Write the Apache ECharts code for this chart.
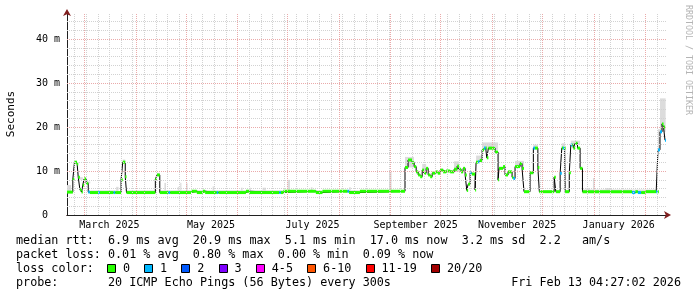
<!DOCTYPE html>
<html><head><meta charset="utf-8">
<script src="https://cdn.jsdelivr.net/npm/echarts@6/dist/echarts.min.js"></script>
<style>html,body{margin:0;padding:0;background:#fff}#c{width:697px;height:297px}</style>
</head><body><div id="c"></div>
<script>
// ---------------- data ----------------
const axisStart = '2025-02-18 12:00';
const axisEnd   = '2026-02-14 00:00';
const dataEnd   = '2026-02-13 04:27';

// median rtt steps (ms): start time of each step, value, loss count class
const stepDates = [
 '2025-02-18 12:00','2025-02-22 00:00','2025-02-23 00:00','2025-02-24 12:00','2025-02-25 06:00',
 '2025-02-26 06:00','2025-02-27 06:00','2025-02-28 00:00','2025-02-28 18:00','2025-03-02 00:00',
 '2025-03-03 06:00','2025-03-04 06:00','2025-03-09 06:00','2025-03-10 06:00','2025-03-18 12:00',
 '2025-03-19 12:00','2025-03-23 00:00','2025-03-24 00:00','2025-03-25 12:00','2025-03-26 06:00',
 '2025-04-12 14:00','2025-04-13 14:00','2025-04-15 06:00','2025-04-20 12:00','2025-04-21 12:00',
 '2025-05-04 00:00','2025-05-07 12:00','2025-05-11 00:00','2025-05-12 12:00','2025-05-19 12:00',
 '2025-05-20 12:00','2025-06-06 00:00','2025-06-08 00:00','2025-06-26 00:00','2025-06-27 00:00',
 '2025-06-28 12:00','2025-07-18 00:00','2025-07-22 00:00','2025-08-06 00:00','2025-08-07 00:00',
 '2025-08-13 12:00','2025-09-09 14:00','2025-09-11 10:00','2025-09-13 19:00','2025-09-15 02:00',
 '2025-09-16 07:00','2025-09-17 12:00','2025-09-18 17:00','2025-09-19 22:00','2025-09-21 02:00',
 '2025-09-22 07:00','2025-09-23 12:00','2025-09-24 17:00','2025-09-25 22:00','2025-09-27 17:00',
 '2025-09-29 07:00','2025-09-30 17:00','2025-10-02 12:00','2025-10-04 07:00','2025-10-06 17:00',
 '2025-10-09 02:00','2025-10-10 22:00','2025-10-12 02:00','2025-10-13 07:00','2025-10-14 12:00',
 '2025-10-15 17:00','2025-10-16 17:00','2025-10-17 12:00','2025-10-18 17:00','2025-10-19 17:00',
 '2025-10-21 17:00','2025-10-22 07:00','2025-10-23 12:00','2025-10-24 12:00','2025-10-25 22:00',
 '2025-10-27 02:00','2025-10-28 02:00','2025-10-28 17:00','2025-10-29 17:00','2025-11-02 17:00',
 '2025-11-04 12:00','2025-11-05 02:00','2025-11-07 12:00','2025-11-08 17:00','2025-11-10 12:00',
 '2025-11-12 22:00','2025-11-13 17:00','2025-11-14 17:00','2025-11-17 17:00','2025-11-18 22:00',
 '2025-11-20 02:00','2025-11-23 17:00','2025-11-25 17:00','2025-11-26 17:00','2025-11-28 10:00',
 '2025-11-29 07:00','2025-12-08 05:00','2025-12-09 05:00','2025-12-11 19:00','2025-12-12 19:00',
 '2025-12-13 12:00','2025-12-14 12:00','2025-12-14 19:00','2025-12-17 07:00','2025-12-18 05:00',
 '2025-12-19 05:00','2025-12-19 17:00','2025-12-20 19:00','2025-12-22 05:00','2025-12-23 19:00',
 '2025-12-25 05:00','2026-01-24 00:00','2026-01-26 00:00','2026-01-27 12:00','2026-01-29 12:00',
 '2026-02-01 00:00','2026-02-07 12:00','2026-02-08 12:00','2026-02-08 14:00','2026-02-09 19:00',
 '2026-02-11 00:00','2026-02-11 22:00','2026-02-12 19:00'
];
const stepMedian = [
 5.2, 8.1, 12.0, 11.6, 8.6,
 5.8, 5.2, 6.8, 8.2, 7.2,
 5.2, 5.1, 5.1, 5.1, 5.1,
 5.1, 8.0, 12.0, 8.7, 5.1,
 8.1, 9.1, 5.1, 5.1, 5.1,
 5.4, 5.1, 5.4, 5.1, 5.1,
 5.1, 5.4, 5.1, 5.1, 5.1,
 5.4, 5.1, 5.4, 5.4, 5.1,
 5.4, 10.8, 12.5, 11.9, 11.0,
 9.8, 9.1, 8.7, 10.2, 9.5,
 10.6, 9.1, 8.7, 9.5, 9.8,
 9.5, 10.2, 9.8, 10.0, 9.8,
 10.4, 11.1, 10.4, 9.8, 10.6,
 9.1, 5.6, 7.0, 9.6, 9.3,
 5.7, 12.0, 12.1, 12.4, 14.8,
 15.2, 15.2, 13.0, 15.2, 14.3,
 8.0, 10.6, 11.0, 9.1, 9.8,
 8.6, 8.3, 11.0, 11.7, 10.6,
 5.3, 9.6, 15.2, 15.2, 10.8,
 5.3, 8.6, 5.3, 9.5, 15.2,
 15.2, 15.2, 5.3, 9.6, 15.9,
 15.9, 15.2, 16.3, 15.2, 10.6,
 5.3, 5.1, 5.3, 5.1, 5.1,
 5.3, 5.3, 5.3, 14.8, 18.9,
 20.7, 20.0, 17.0
];
const stepLoss = [
 0,0,0,0,0, 0,0,0,0,0, 1,0,1,0,1, 0,0,0,0,0, 0,0,0,1,0,
 0,0,0,0,1, 0,0,0,1,0, 0,0,0,1,0, 0,0,0,0,0, 0,0,0,0,0,
 0,0,0,0,0, 0,0,0,0,0, 0,0,0,0,0, 0,0,0,1,0, 0,0,1,0,0,
 1,0,0,0,0, 0,0,0,0,0, 0,1,0,0,0, 0,0,1,0,0, 0,0,0,1,0,
 1,0,0,0,1, 0,0,0,0,0, 0,1,0,1,0, 0,1,0,1,1, 0,0,1
];

// smoke (spread of the 20 pings): start, end, upper value (ms)
const smokeStart = [
 '2025-02-18 12:00','2025-02-26 00:00','2025-03-02 00:00','2025-03-04 12:00','2025-03-20 00:00',
 '2025-03-24 00:00','2025-03-26 06:00','2025-04-13 14:00','2025-04-15 06:00','2025-04-18 00:00',
 '2025-04-26 00:00','2025-04-27 12:00','2025-05-01 00:00','2025-05-17 00:00','2025-06-03 00:00',
 '2025-06-08 00:00','2025-06-16 00:00','2025-07-01 00:00','2025-07-15 00:00','2025-08-07 00:00',
 '2025-08-31 00:00','2025-09-09 14:00','2025-09-19 22:00','2025-10-09 00:00','2025-10-22 07:00',
 '2025-10-25 22:00','2025-11-14 17:00','2025-11-25 17:00','2025-12-12 19:00','2025-12-18 05:00',
 '2025-12-25 05:00','2025-12-27 12:00','2025-12-31 12:00','2026-01-08 00:00','2026-02-08 14:00',
 '2026-02-09 19:00'
];
const smokeEnd = [
 '2025-02-21 00:00','2025-02-28 00:00','2025-03-04 12:00','2025-03-21 00:00','2025-03-21 12:00',
 '2025-03-25 12:00','2025-04-12 14:00','2025-04-15 06:00','2025-09-09 14:00','2025-04-19 00:00',
 '2025-04-27 00:00','2025-04-28 06:00','2025-05-02 00:00','2025-05-18 00:00','2025-06-04 00:00',
 '2025-06-09 00:00','2025-06-18 00:00','2025-07-02 12:00','2025-07-16 00:00','2025-08-08 00:00',
 '2025-09-01 12:00','2025-09-15 00:00','2025-09-22 07:00','2025-10-12 00:00','2025-10-25 22:00',
 '2025-11-04 12:00','2025-11-20 00:00','2025-11-28 10:00','2025-12-14 19:00','2025-12-23 19:00',
 '2026-02-08 14:00','2025-12-29 12:00','2026-01-01 12:00','2026-01-12 00:00','2026-02-09 19:00',
 '2026-02-13 04:27'
];
const smokeHigh = [
 6.8, 8.0, 7.6, 5.6, 6.4,
 12.6, 5.6, 9.6, 5.6, 7.3,
 6.4, 7.3, 7.2, 6.5, 6.2,
 6.2, 6.2, 8.0, 6.3, 6.3,
 9.8, 13.2, 11.6, 12.2, 13.5,
 16.5, 12.3, 16.0, 16.3, 16.9,
 5.8, 6.1, 8.4, 6.1, 19.5,
 26.5
];

// axes / ticks
const yTickValues = [0, 10, 20, 30, 40];
const yTickLabels = ['0  ', '10 m', '20 m', '30 m', '40 m'];
const xLabelDates = ['2025-03-16 00:00','2025-05-16 00:00','2025-07-16 00:00','2025-09-16 00:00','2025-11-16 00:00','2026-01-16 00:00'];
const xLabelTexts = ['March 2025','May 2025','July 2025','September 2025','November 2025','January 2026'];
const monthGridDates = ['2025-03-01 00:00','2025-04-01 00:00','2025-05-01 00:00','2025-06-01 00:00','2025-07-01 00:00','2025-08-01 00:00',
 '2025-09-01 00:00','2025-10-01 00:00','2025-11-01 00:00','2025-12-01 00:00','2026-01-01 00:00','2026-02-01 00:00'];
const firstWeekLine = '2025-02-23 00:00';

// legend
const lossLabels = ['0','1','2','3','4-5','6-10','11-19','20/20'];
const lossColors = ['#26ff00','#00b8ff','#0059ff','#7e00ff','#ff00ff','#ff5500','#ff0000','#a10000'];
const legendLine1 = 'median rtt:  6.9 ms avg  20.9 ms max  5.1 ms min  17.0 ms now  3.2 ms sd  2.2   am/s';
const legendLine2 = 'packet loss: 0.01 % avg  0.80 % max  0.00 % min  0.09 % now';
const legendLine3 = 'loss color:';
const legendLine4 = 'probe:       20 ICMP Echo Pings (56 Bytes) every 300s';
const legendDate  = 'Fri Feb 13 04:27:02 2026';
const yName = 'Seconds';
const watermark = 'RRDTOOL / TOBI OETIKER';

// ---------------- build ----------------
function ts(s) {
  const m = s.match(/(\d+)-(\d+)-(\d+)(?: (\d+):(\d+))?/);
  return new Date(+m[1], +m[2]-1, +m[3], +(m[4]||0), +(m[5]||0)).getTime();
}
const xMin = ts(axisStart), xMax = ts(axisEnd), tEnd = ts(dataEnd);
const stepT = stepDates.map(ts);
function medianAt(t) {
  let v = stepMedian[0];
  for (let i = 0; i < stepT.length; i++) { if (stepT[i] <= t) v = stepMedian[i]; }
  return v;
}
const lineData = stepT.map((t, i) => [t, stepMedian[i]]);
lineData.push([tEnd, stepMedian[stepMedian.length-1]]);
const bandData = stepT.map((t, i) => [t, i+1 < stepT.length ? stepT[i+1] : tEnd, stepMedian[i], stepLoss[i]]);
const smokeData = smokeStart.map((s, i) => { const a = ts(s); return [a, ts(smokeEnd[i]), medianAt(a), smokeHigh[i]]; });
const xLabelTs = xLabelDates.map(ts);

// grid lines
const DAY = 86400000;
const weekLines = [];
for (let t = ts(firstWeekLine); t < xMax; t += 7*DAY) {
  const d = new Date(t + 12*3600000); weekLines.push(new Date(d.getFullYear(), d.getMonth(), d.getDate()).getTime());
}
const yMax = 45.9;
const hMinor = [], hMajor = [];
for (let v = 2; v < yMax; v += 2) { (v % 10 === 0 ? hMajor : hMinor).push(v); }

const MONO = "'DejaVu Sans Mono', monospace";
const minorStyle = {color: '#d2d2d2', width: 1, type: [1, 1]};
const majorStyle = {color: '#eaaaaa', width: 1, type: [1, 1]};
const gridMarks = [];
weekLines.forEach(t => gridMarks.push({xAxis: t, lineStyle: minorStyle}));
hMinor.forEach(v => gridMarks.push({yAxis: v, lineStyle: minorStyle}));
monthGridDates.forEach(s => gridMarks.push({xAxis: ts(s), lineStyle: majorStyle}));
hMajor.forEach(v => gridMarks.push({yAxis: v, lineStyle: majorStyle}));

const chart = echarts.init(document.getElementById('c'), null, {renderer: 'canvas'});

// legend graphics
const cw = 7.07;
const gx = 16;
const FONT = `11.75px ${MONO}`;
function txt(text, x, y, extra) {
  return Object.assign({type: 'text', x: x, y: y, silent: true,
    style: Object.assign({text: text, font: FONT, fill: '#000', verticalAlign: 'middle', textVerticalAlign: 'middle'}, extra || {})});
}
const graphics = [
  txt(legendLine1, gx, 241), txt(legendLine2, gx, 255), txt(legendLine3, gx, 269), txt(legendLine4, gx, 283),
  txt(legendDate, 681, 283, {align: 'right', textAlign: 'right'}),
  {type: 'text', x: 688, y: 5, rotation: -Math.PI/2, silent: true,
   style: {text: watermark, font: `8.3px ${MONO}`, fill: '#b4b4b4', verticalAlign: 'middle', textVerticalAlign: 'middle'}}
];
let bx = gx + 13*cw - 1;
lossLabels.forEach((lab, i) => {
  graphics.push({type: 'rect', silent: true, shape: {x: Math.round(bx) + 0.5, y: 264.5, width: 8, height: 8},
    style: {fill: lossColors[i], stroke: '#000', lineWidth: 1}});
  graphics.push(txt(lab, bx + 16, 269));
  bx = bx + 16 + lab.length*cw + 2*cw;
});

const option = {
  animation: false,
  backgroundColor: '#ffffff',
  grid: {left: 67, right: 30, top: 13, bottom: 82, containLabel: false, outerBoundsMode: 'none'},
  xAxis: [
    {type: 'value', min: xMin, max: xMax, position: 'bottom', scale: true,
     axisLine: {show: true, symbol: ['none', 'arrow'], symbolSize: [6, 7], symbolOffset: [0, 4], lineStyle: {color: '#801f1f', width: 1}},
     axisTick: {show: false}, splitLine: {show: false},
     axisLabel: {show: true, customValues: xLabelTs, margin: 5, color: '#000', fontFamily: MONO, fontSize: 10,
       formatter: (v) => { const i = xLabelTs.indexOf(v); return i >= 0 ? xLabelTexts[i] : ''; }}},
    {type: 'value', min: xMin, max: xMax, position: 'bottom', scale: true,
     axisLine: {show: true, lineStyle: {color: '#202020', width: 1}},
     axisTick: {show: false}, splitLine: {show: false}, axisLabel: {show: false}}
  ],
  yAxis: [
    {type: 'value', min: 0, max: yMax, position: 'left',
     name: yName, nameLocation: 'middle', nameGap: 50,
     nameTextStyle: {color: '#000', fontFamily: MONO, fontSize: 11},
     axisLine: {show: true, symbol: ['none', 'arrow'], symbolSize: [6, 7], symbolOffset: [0, 4], lineStyle: {color: '#801f1f', width: 1}},
     axisTick: {show: false}, splitLine: {show: false},
     axisLabel: {customValues: yTickValues, margin: 7, color: '#000', fontFamily: MONO, fontSize: 10,
       formatter: (v) => { const i = yTickValues.indexOf(v); return i >= 0 ? yTickLabels[i] : ''; }}},
    {type: 'value', min: 0, max: yMax, position: 'left',
     axisLine: {show: true, lineStyle: {color: '#202020', width: 1}},
     axisTick: {show: false}, splitLine: {show: false}, axisLabel: {show: false}}
  ],
  graphic: graphics,
  series: [
    {type: 'line', name: 'grid', data: [], z: 1, silent: true,
     markLine: {silent: true, symbol: ['none', 'none'], label: {show: false}, animation: false, data: gridMarks}},
    {type: 'custom', name: 'smoke', z: 2, silent: true, data: smokeData, encode: {x: [0, 1], y: [2, 3]},
     renderItem: (params, api) => {
       const a = api.coord([api.value(0), api.value(3)]);
       const b = api.coord([api.value(1), api.value(2)]);
       return {type: 'rect', shape: {x: a[0], y: a[1], width: Math.max(1, b[0]-a[0]), height: b[1]-a[1]},
         style: {fill: '#dcdcdc'}};
     }},
    {type: 'line', name: 'median', z: 3, step: 'end', data: lineData, showSymbol: false, silent: true,
     lineStyle: {color: '#000', width: 1}},
    {type: 'custom', name: 'loss', z: 4, silent: true, data: bandData, encode: {x: [0, 1], y: 2},
     renderItem: (params, api) => {
       const a = api.coord([api.value(0), api.value(2)]);
       const b = api.coord([api.value(1), api.value(2)]);
       return {type: 'rect', shape: {x: a[0], y: a[1]-1.5, width: Math.max(1, b[0]-a[0]), height: 3},
         style: {fill: lossColors[api.value(3)]}};
     }}
  ]
};
chart.setOption(option);
</script>
</body></html>
